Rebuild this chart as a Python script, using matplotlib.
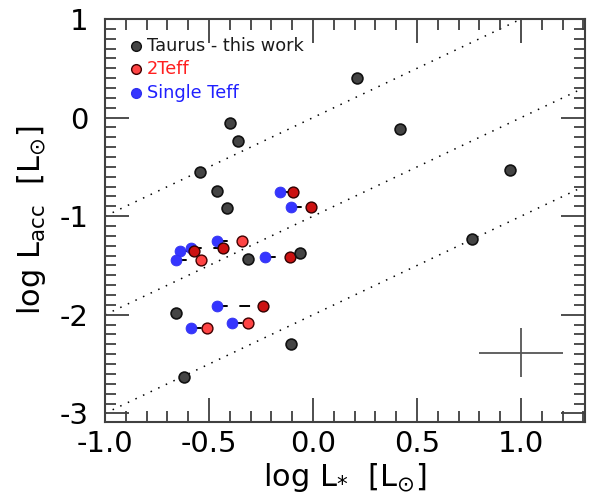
import numpy as np
import matplotlib
matplotlib.use("Agg")
import matplotlib.pyplot as plt
from matplotlib.ticker import MultipleLocator

plt.rcParams["mathtext.default"] = "regular"

# Taurus sample (this work)
tau_x = [-0.543, -0.46, -0.412, -0.399, -0.359, 0.213, 0.418, 0.947, 0.764,
         -0.311, -0.0625, -0.659, -0.106, -0.622]
tau_y = [-0.552, -0.741, -0.920, -0.058, -0.237, 0.399, -0.112, -0.531, -1.228,
         -1.437, -1.376, -1.985, -2.296, -2.628]

# paired objects: single-Teff luminosity vs 2Teff luminosity, same L_acc
pair_y = [-0.752, -0.910, -1.255, -1.326, -1.356, -1.444, -1.411, -1.914, -2.137, -2.086]
single_x = [-0.157, -0.104, -0.46, -0.588, -0.641, -0.659, -0.233, -0.46, -0.588, -0.389]
two_x = [-0.098, -0.011, -0.34, -0.433, -0.571, -0.54, -0.111, -0.239, -0.512, -0.311]
two_dark = [True, True, False, True, True, False, True, True, False, False]

# lines of constant L_acc / L_*
ratio_offsets = [0, -1, -2]
# typical error bar
err_x, err_y, err_dx, err_dy = 1.0, -2.385, 0.2, 0.25

fig = plt.figure(figsize=(5.95, 4.95), dpi=100)
ax = fig.add_axes([0.1765, 0.148, 0.8059, 0.8136])
frame = "#404040"
ms = 7.8

xx = np.array([-1.0, 1.3])
for c in ratio_offsets:
    ax.plot(xx, xx + c, color="black", lw=1.1, ls=(0, (1, 4.5)), zorder=1)

for xs, xt, y in zip(single_x, two_x, pair_y):
    ax.plot([xs, xt], [y, y], color="black", lw=1.4, ls=(0, (5.5, 6)), zorder=2)

ax.plot(single_x, pair_y, "o", ms=ms, mfc="#3535ff", mec="#3030f0", mew=0.6, ls="none", zorder=3)
dx = [x for x, d in zip(two_x, two_dark) if d]
dy = [y for y, d in zip(pair_y, two_dark) if d]
lx = [x for x, d in zip(two_x, two_dark) if not d]
ly = [y for y, d in zip(pair_y, two_dark) if not d]
ax.plot(dx, dy, "o", ms=ms, mfc="#cc1111", mec="#300000", mew=1.0, ls="none", zorder=4)
ax.plot(lx, ly, "o", ms=ms, mfc="#ff4444", mec="#400000", mew=1.0, ls="none", zorder=4)
ax.plot(tau_x, tau_y, "o", ms=ms, mfc="#444444", mec="#111111", mew=1.2, ls="none", zorder=4)

ax.errorbar(err_x, err_y, xerr=err_dx, yerr=err_dy, fmt="none", ecolor="#555555",
            elinewidth=1.3, capsize=0, zorder=2)

# legend drawn by hand
leg_items = ["Taurus - this work", "2Teff", "Single Teff"]
leg_fc = ["#444444", "#ff4444", "#3535ff"]
leg_ec = ["#111111", "#400000", "#3030f0"]
leg_tc = ["#1a1a1a", "#ff2020", "#2020ff"]
for i, (lab, fc, ec, tc) in enumerate(zip(leg_items, leg_fc, leg_ec, leg_tc)):
    yl = 0.933 - i * 0.058
    ax.plot([0.065], [yl], "o", ms=7, mfc=fc, mec=ec, mew=1.0, transform=ax.transAxes)
    ax.text(0.088, yl, lab, color=tc, fontsize=12.8, va="center", ha="left",
            transform=ax.transAxes)

ax.set_xlim(-1.0, 1.305)
ax.set_ylim(-3.085, 1.0)
ax.xaxis.set_minor_locator(MultipleLocator(0.1))
ax.yaxis.set_minor_locator(MultipleLocator(0.1))
ax.set_xticks([-1.0, -0.5, 0.0, 0.5, 1.0])
ax.set_xticklabels(["-1.0", "-0.5", "0.0", "0.5", "1.0"])
ax.set_yticks([-3, -2, -1, 0, 1])
ax.set_yticklabels(["-3", "-2", "-1", "0", "1"])
ax.tick_params(which="both", direction="in", top=True, right=True, color=frame, width=1.3,
               labelsize=21, labelcolor="black")
ax.tick_params(which="major", length=17, pad=6)
ax.tick_params(which="minor", length=8)
ax.tick_params(axis="y", which="major", pad=12)
for s in ax.spines.values():
    s.set_color(frame)
    s.set_linewidth(1.5)

ax.set_xlabel(r"log L$_{*}$  [L$_{\odot}$]", fontsize=22, labelpad=2)
ax.set_ylabel(r"log L$_{acc}$  [L$_{\odot}$]", fontsize=22, labelpad=8)

fig.savefig("out.png", dpi=100)
